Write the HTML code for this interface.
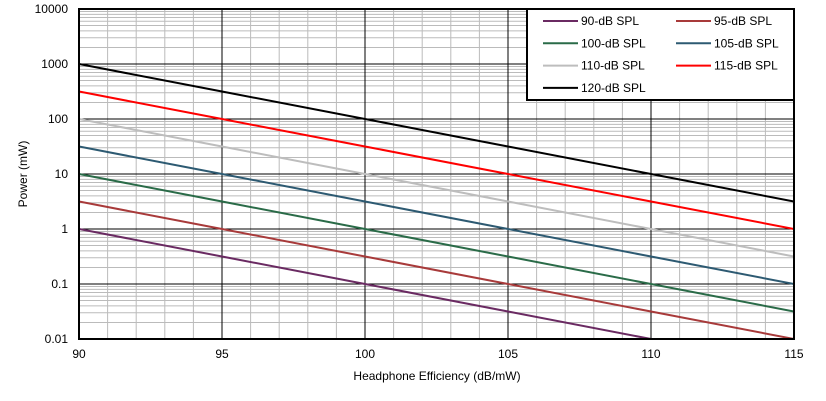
<!DOCTYPE html>
<html><head><meta charset="utf-8"><style>
body{margin:0;background:#fff;}
svg{display:block;font-family:"Liberation Sans",Arial,sans-serif;}
</style></head><body>
<svg id="c" width="826" height="401"></svg>
<script>
const xTicks=[90,95,100,105,110,115];
const yTickLabels=["0.01","0.1","1","10","100","1000","10000"];
const seriesNames=["90-dB SPL","95-dB SPL","100-dB SPL","105-dB SPL","110-dB SPL","115-dB SPL","120-dB SPL"];
const s90=[1,0.316,0.1,0.0316,0.01,0.00316];
const s95=[3.16,1,0.316,0.1,0.0316,0.01];
const s100=[10,3.16,1,0.316,0.1,0.0316];
const s105=[31.6,10,3.16,1,0.316,0.1];
const s110=[100,31.6,10,3.16,1,0.316];
const s115=[316,100,31.6,10,3.16,1];
const s120=[1000,316,100,31.6,10,3.16];
const seriesValues=[s90,s95,s100,s105,s110,s115,s120];
const colors=["#6a2a62","#a83a3a","#2a6b48","#2d5a72","#bdbdbd","#ff0000","#000000"];
const L=79,R=794,T=9,B=339;
const NS="http://www.w3.org/2000/svg";
const svg=document.getElementById('c');
function X(v){return L+(v-90)/(115-90)*(R-L);}
function Y(v){return B-(Math.log10(v)+2)/6*(B-T);}
function el(t,a,p){const e=document.createElementNS(NS,t);for(const k in a)e.setAttribute(k,a[k]);(p||svg).appendChild(e);return e;}
const defs=el('defs',{});const cp=el('clipPath',{id:'pc'},defs);el('rect',{x:L,y:T,width:R-L,height:B-T},cp);
// minor grid
for(let v=90;v<=115;v++){if(v%5){const g=el('line',{x1:X(v),x2:X(v),y1:T,y2:B,stroke:'#bbb','stroke-width':1});

}}
for(let d=-2;d<4;d++)for(let m=2;m<10;m++){const yy=Y(m*Math.pow(10,d));const g=el('line',{x1:L,x2:R,y1:yy,y2:yy,stroke:'#bbb','stroke-width':1});

}
xTicks.forEach(v=>{const g=el('line',{x1:X(v),x2:X(v),y1:T,y2:B,stroke:'#000','stroke-width':1});


const t=el('text',{x:X(v),y:358,'text-anchor':'middle','font-size':12});t.textContent=v;

});
yTickLabels.forEach(s=>{const yy=Y(parseFloat(s));const g=el('line',{x1:L,x2:R,y1:yy,y2:yy,stroke:'#000','stroke-width':1});


const t=el('text',{x:68,y:yy+4,'text-anchor':'end','font-size':12});t.textContent=s;

});
// series
seriesValues.forEach((vals,i)=>{const pts=vals.map((v,j)=>X(xTicks[j]).toFixed(1)+','+Y(v).toFixed(1)).join(' ');
const p=el('polyline',{points:pts,fill:'none',stroke:colors[i],'stroke-width':2,'clip-path':'url(#pc)'});

});
const fr=el('rect',{x:L,y:T,width:R-L,height:B-T,fill:'none',stroke:'#000','stroke-width':2});


// legend
const lg=el('g',{});


el('rect',{x:527,y:9,width:267,height:91,fill:'#fff',stroke:'#000','stroke-width':2},lg);
seriesNames.forEach((n,i)=>{const col=i%2,row=Math.floor(i/2);const lx=col?676:543,ly=21+row*22.3;
const g=el('g',{},lg);


el('line',{x1:lx,x2:lx+35,y1:ly,y2:ly,stroke:colors[i],'stroke-width':2},g);
const t=el('text',{x:lx+38,y:ly+4,'font-size':12},g);t.textContent=n;});
const xt=el('text',{x:437,y:380,'text-anchor':'middle','font-size':12});xt.textContent='Headphone Efficiency (dB/mW)';


const yt=el('text',{x:0,y:0,'text-anchor':'middle','font-size':12,transform:'translate(27,174) rotate(-90)'});yt.textContent='Power (mW)';


</script>
</body></html>
